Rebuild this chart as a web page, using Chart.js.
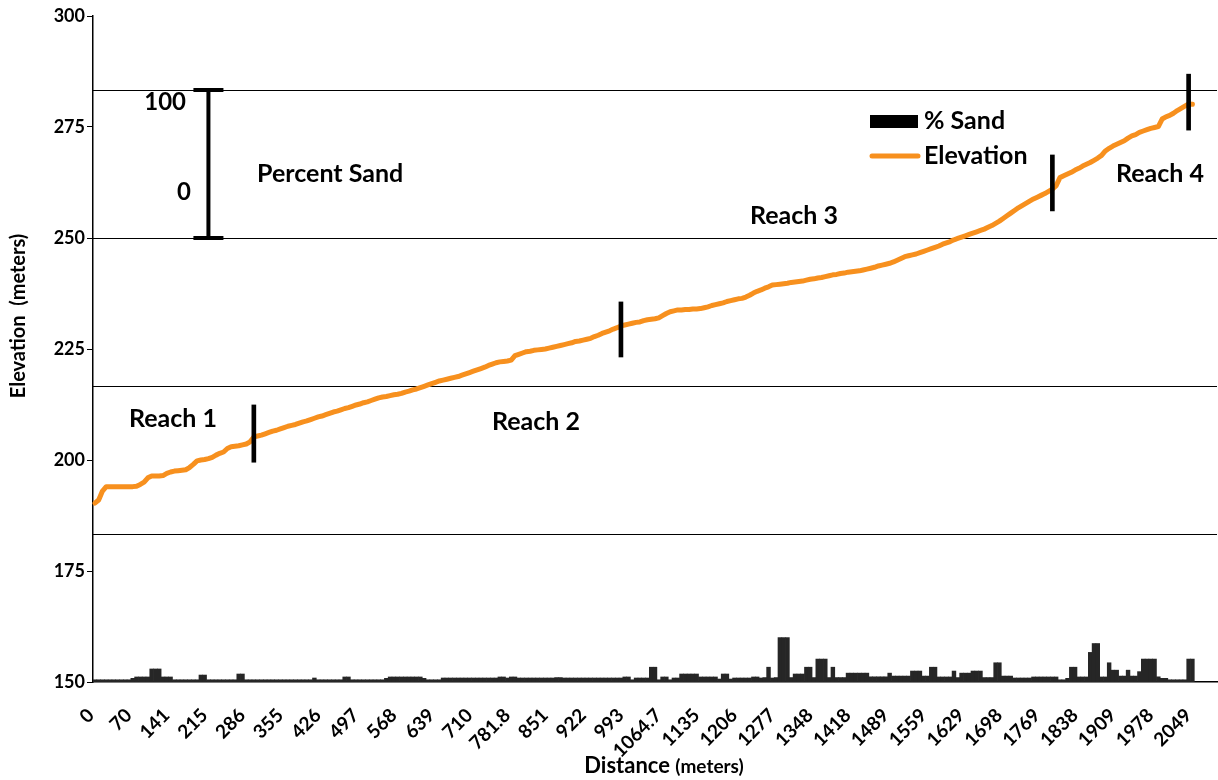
<!DOCTYPE html>
<html>
<head>
<meta charset="utf-8">
<script src="https://cdn.jsdelivr.net/npm/chart.js@4.4.1/dist/chart.umd.min.js"></script>
<style>
  html, body { margin: 0; padding: 0; background: #ffffff; }
  #wrap { width: 1218px; height: 780px; }
</style>
</head>
<body>
<div id="wrap"><canvas id="c" width="1218" height="780"></canvas></div>
<script>
// ---- Data -------------------------------------------------------------
// Distance tick labels (one every ten sampling stations)
const tickLabels = ['0','70','141','215','286','355','426','497','568','639','710','781.8',
  '851','922','993','1064.7','1135','1206','1277','1348','1418','1489','1559','1629',
  '1698','1769','1838','1909','1978','2049'];

// Percent sand at each station (null = no sample)
const sandPct = [
  1.5,1.5,1.5,1.5,1.5,1.5,1.5,1.5,1.5,1.5,
  2.5,3.4,3.4,3.4,3.4,8.8,8.8,8.8,3.4,3.4,
  3.4,1.5,1.5,1.5,1.5,1.5,1.5,1.5,4.7,4.7,
  1.5,1.5,1.5,1.5,1.5,1.5,1.5,1.5,5.4,5.4,
  1.5,1.5,1.5,1.5,1.5,1.5,1.5,1.5,1.5,1.5,
  1.5,1.5,1.5,1.5,1.5,1.5,1.5,1.5,2.7,1.5,
  1.5,1.5,1.5,1.5,1.5,1.5,3.4,3.4,1.5,1.5,
  1.5,1.5,1.5,1.5,1.5,1.5,1.5,2.5,3.4,3.4,
  3.4,3.4,3.4,3.4,3.4,3.4,3.4,2.5,1.5,1.5,
  1.5,1.5,2.7,2.7,2.7,2.7,2.7,2.7,2.7,2.7,
  2.7,2.7,2.7,2.7,2.7,2.7,2.7,3.4,3.4,2.7,
  3.4,3.4,2.7,2.7,2.7,2.7,2.7,2.7,2.7,2.7,
  2.7,2.7,3.0,3.0,2.7,2.7,2.7,2.7,2.7,2.7,
  2.7,2.7,2.7,2.7,2.7,2.7,2.7,2.7,2.7,2.7,
  3.4,3.4,1.5,2.7,2.7,2.7,2.7,10,10,1.5,
  3.4,3.4,1.5,2.7,2.7,5.4,5.4,5.4,5.4,5.4,
  3.4,3.4,3.4,3.4,3.4,2.0,5.4,5.4,2.0,2.7,
  2.7,2.7,2.7,2.7,3.4,3.4,2.7,3.0,10,2.7,
  3.0,30,30,30,3.0,5.4,5.4,5.4,10,10,
  3.0,15.5,15.5,15.5,3.0,10,3.0,3.0,3.0,6,
  6,6,6,6,6,3.5,3.5,3.5,3.5,3.5,
  6,4,4,4,4,4,7.4,7.4,7.4,4,
  4,10,10,3.4,3.4,3.4,3.4,7.4,3.0,6,
  6,6,7.4,7.4,7.4,3.0,3.0,3.0,13,13,
  4,4,4,2.7,2.7,2.7,2.7,2.7,3.4,3.4,
  3.4,3.4,3.4,3.4,3.4,1.5,1.5,2.5,10,10,
  3.4,3.4,3.4,20,26,26,3.4,3.4,13,8,
  8,4,4,8,4,4,7,15.5,15.5,15.5,
  15.5,3.5,2.5,2.5,1.5,1.5,1.5,1.5,1.5,15.5,
  15.5,null,null,null,null,null,null
];

// Channel bed elevation (m) at each station
const elevation = [
  190.3,191.0,193.0,194.0,194.0,194.0,194.0,194.0,194.0,194.0,
  194.0,194.1,194.5,195.0,196.0,196.4,196.4,196.4,196.5,197.0,
  197.3,197.5,197.6,197.7,197.8,198.3,199.0,199.8,200.0,200.1,
  200.3,200.6,201.1,201.5,201.8,202.6,203.0,203.1,203.2,203.4,
  203.6,204.1,205.2,205.4,205.6,205.9,206.2,206.5,206.7,207.0,
  207.3,207.6,207.8,208.0,208.3,208.6,208.8,209.1,209.4,209.7,
  209.9,210.2,210.5,210.8,211.0,211.3,211.6,211.8,212.1,212.4,
  212.6,212.9,213.1,213.4,213.7,214.0,214.2,214.3,214.5,214.7,
  214.8,215.0,215.3,215.5,215.8,216.0,216.3,216.6,216.9,217.2,
  217.5,217.8,218.0,218.2,218.4,218.6,218.8,219.1,219.4,219.7,
  220.0,220.3,220.6,220.9,221.3,221.6,221.9,222.1,222.2,222.3,
  222.5,223.5,223.8,224.1,224.4,224.5,224.7,224.8,224.9,225.0,
  225.2,225.4,225.6,225.8,226.0,226.2,226.4,226.7,226.8,227.0,
  227.2,227.4,227.8,228.1,228.5,228.8,229.1,229.5,229.8,230.2,
  230.4,230.6,230.8,231.0,231.1,231.4,231.6,231.7,231.8,232.0,
  232.5,233.0,233.4,233.6,233.8,233.8,233.9,233.9,234.0,234.0,
  234.1,234.3,234.5,234.8,235.0,235.2,235.4,235.7,235.9,236.1,
  236.3,236.4,236.7,237.1,237.6,238.0,238.3,238.7,239.0,239.4,
  239.5,239.6,239.7,239.8,240.0,240.1,240.2,240.3,240.5,240.7,
  240.8,241.0,241.1,241.3,241.5,241.7,241.8,242.0,242.1,242.3,
  242.4,242.5,242.6,242.8,243.0,243.2,243.4,243.7,243.9,244.1,
  244.3,244.6,245.0,245.4,245.8,246.0,246.2,246.4,246.7,247.0,
  247.3,247.6,247.9,248.2,248.6,248.9,249.2,249.6,249.9,250.2,
  250.5,250.8,251.1,251.4,251.7,252.0,252.4,252.8,253.3,253.8,
  254.4,255.0,255.6,256.2,256.8,257.3,257.8,258.3,258.8,259.2,
  259.6,260.0,260.5,261.0,261.8,263.6,264.0,264.4,264.8,265.3,
  265.7,266.2,266.6,267.0,267.5,268.0,268.6,269.6,270.2,270.7,
  271.1,271.5,271.9,272.5,273.0,273.3,273.8,274.1,274.4,274.7,
  274.9,275.1,276.8,277.3,277.6,278.1,278.7,279.2,279.7,280.2,
  280.1,null,null,null,null,null,null
];

// Reach boundaries: station index and elevation span of the marker
const reachStation = [42, 139, 253, 289];
const reachLow  = [199.5, 223.2, 256.1, 274.3];
const reachHigh = [212.4, 235.6, 268.7, 286.9];

// Secondary (sand) axis grid values and the 0-100 % reference bar
const sandGrid = [100, 200, 300, 400];
const sandBarBase = 300;
const sandBarSpan = 100;

// ---- Derived tables ----------------------------------------------------
const categories = sandPct.map((_, i) => (i % 10 === 0 && tickLabels[i / 10] !== undefined) ? tickLabels[i / 10] : '');
const reachMarks = sandPct.map(() => null);
reachStation.forEach((s, k) => { reachMarks[s] = [reachLow[k], reachHigh[k]]; });

const FONT = 'Lato, "Open Sans", sans-serif';
const ORANGE = '#F7901E';
const SAND = '#262626';

// ---- Text, legend and reference bar ------------------------------------
const overlay = {
  id: 'overlay',
  afterDraw(chart) {
    const { ctx, scales: { x, y2 } } = chart;
    ctx.save();
    ctx.fillStyle = '#000';
    ctx.textBaseline = 'middle';
    const txt = (s, px, py, size, align) => {
      ctx.font = 'bold ' + size + 'px ' + FONT;
      ctx.textAlign = align || 'left';
      ctx.fillText(s, px, py);
    };

    // Percent sand reference bar (0 to 100 on the sand axis)
    const bx = x.getPixelForValue(30);
    const y0 = y2.getPixelForValue(sandBarBase);
    const y1 = y2.getPixelForValue(sandBarBase + sandBarSpan);
    ctx.strokeStyle = '#000';
    ctx.lineWidth = 4;
    ctx.beginPath();
    ctx.moveTo(bx, y0); ctx.lineTo(bx, y1);
    ctx.moveTo(bx - 15, y0); ctx.lineTo(bx + 15, y0);
    ctx.moveTo(bx - 15, y1); ctx.lineTo(bx + 15, y1);
    ctx.stroke();
    txt('100', 186, 102, 24, 'right');
    txt('0', 191, 192, 24, 'right');
    txt('Percent Sand', 257, 174, 25);

    // Reach labels
    txt('Reach 1', 129, 419, 25);
    txt('Reach 2', 492, 422, 25);
    txt('Reach 3', 750, 216, 25);
    txt('Reach 4', 1116, 174, 25);

    // Legend
    ctx.fillStyle = '#000';
    ctx.fillRect(870, 115, 48, 13);
    ctx.strokeStyle = ORANGE;
    ctx.lineWidth = 5;
    ctx.lineCap = 'round';
    ctx.beginPath(); ctx.moveTo(872, 156); ctx.lineTo(918, 156); ctx.stroke();
    txt('% Sand', 924, 121, 25);
    txt('Elevation', 924, 156, 25);

    // Axis titles
    ctx.font = 'bold 22px ' + FONT;
    const w1 = ctx.measureText('Distance ').width;
    ctx.font = 'bold 19px ' + FONT;
    const w2 = ctx.measureText('(meters)').width;
    const sx = 664 - (w1 + w2) / 2;
    txt('Distance ', sx, 766, 22);
    txt('(meters)', sx + w1, 767, 19);

    ctx.translate(19, 316);
    ctx.rotate(-Math.PI / 2);
    txt('Elevation  (meters)', 0, 0, 20, 'center');
    ctx.restore();
  }
};

new Chart(document.getElementById('c'), {
  data: {
    labels: categories,
    datasets: [
      {
        type: 'bar',
        label: 'Reach boundary',
        data: reachMarks,
        yAxisID: 'y',
        backgroundColor: '#000',
        barThickness: 4,
        order: 0
      },
      {
        type: 'line',
        label: 'Elevation',
        data: elevation,
        yAxisID: 'y',
        borderColor: ORANGE,
        borderWidth: 5,
        pointRadius: 0,
        tension: 0,
        borderJoinStyle: 'round',
        borderCapStyle: 'round',
        order: 1
      },
      {
        type: 'bar',
        label: '% Sand',
        data: sandPct,
        yAxisID: 'y2',
        backgroundColor: SAND,
        borderWidth: 0,
        categoryPercentage: 1,
        barPercentage: 1,
        order: 2
      }
    ]
  },
  options: {
    responsive: false,
    animation: false,
    devicePixelRatio: 1,
    datasets: { bar: { grouped: false } },
    layout: { padding: { top: 16, right: 1, left: 0, bottom: 0 } },
    plugins: { legend: { display: false }, tooltip: { enabled: false }, title: { display: false } },
    scales: {
      x: {
        type: 'category',
        offset: true,
        grid: { display: false, drawTicks: false },
        border: { display: true, color: '#000', width: 1.5 },
        ticks: {
          autoSkip: false,
          minRotation: 45,
          maxRotation: 45,
          padding: 22,
          labelOffset: -4,
          color: '#000',
          font: { family: FONT, size: 19, weight: 'bold' }
        },
        afterFit: s => { s.height = 98; s.paddingLeft = 0; s.paddingRight = 0; }
      },
      y: {
        position: 'left',
        min: 150,
        max: 300,
        ticks: {
          stepSize: 25,
          padding: 2,
          color: '#000',
          font: { family: FONT, size: 18, weight: 'bold' }
        },
        grid: { display: true, drawOnChartArea: false, drawTicks: true, tickLength: 6, color: '#000', lineWidth: 1 },
        border: { display: true, color: '#000', width: 1.5 },
        afterFit: s => { s.width = 93; }
      },
      y2: {
        position: 'right',
        min: 0,
        max: 450,
        ticks: { display: false },
        afterBuildTicks: s => { s.ticks = sandGrid.map(v => ({ value: v })); },
        grid: { display: true, drawOnChartArea: true, drawTicks: false, color: '#000', lineWidth: 1 },
        border: { display: false },
        afterFit: s => { s.width = 0; }
      }
    }
  },
  plugins: [overlay]
});
</script>
</body>
</html>
